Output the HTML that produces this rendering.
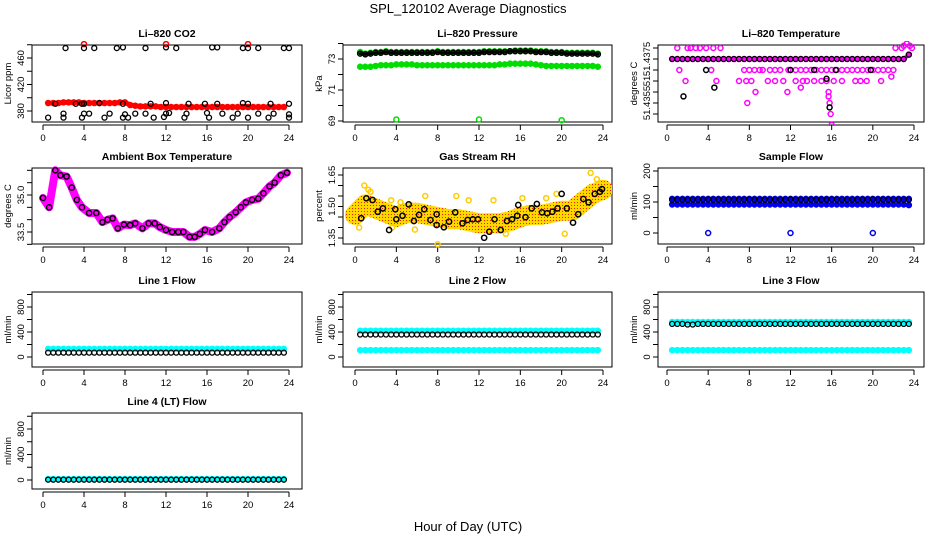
<!DOCTYPE html>
<html><head><meta charset="utf-8">
<style>
html,body{margin:0;padding:0;background:#fff;}
svg{display:block;font-family:"Liberation Sans",sans-serif;}
</style></head>
<body>
<svg id="c" width="936" height="540" viewBox="0 0 936 540">
<defs>
<pattern id="rhpat" width="3" height="3" patternUnits="userSpaceOnUse">
<rect width="3" height="3" fill="#ffd800"/><rect x="1" y="1" width="1" height="1" fill="#f02000"/>
</pattern>
</defs>
<text x="468" y="13" text-anchor="middle" font-size="13">SPL_120102  Average Diagnostics</text>
<text x="468" y="531" text-anchor="middle" font-size="13">Hour of Day (UTC)</text>
</svg>
<script>
const xTicks=[0,4,8,12,16,20,24];
const halfHours=[];for(let i=1;i<48;i++)halfHours.push(i*0.5);

// CO2
const co2Red=[392,392,392,393,393,393,393,392,392,392,392,392,392,392,393,393,389,388,387,387,387,387,386,386,386,386,386,386,386,386,386,386,386,386,386,386,386,386,386,386,386,386,386,386,386,386,386];
const co2RedTopHours=[4,12,20];const co2RedTop=[481,481,481];
const co2BlackHours=[2.2,4,5,7.2,7.8,10,12,13,16.5,17,19.5,20,21,23.5,24,1.2,3.2,3.8,4,5.5,7.8,10.5,12,14.2,15.8,17,19.5,20,22.2,24,0.5,2,4,4.5,6.5,8,9,10,12,12.3,14,16,17.5,19,21,22.5,24,2,3.8,6,7.8,8.3,10.8,11.8,13.8,16.2,18.5,20,22,24];
const co2Black=[475,475,475,475,476,475,476,475,476,476,475,475,475,475,475,391,391,391,391,392,391,391,392,391,391,391,392,391,391,391,370,376,376,376,376,375,376,376,376,377,376,377,376,376,376,376,375,370,370,370,370,370,370,371,370,370,370,370,370,370];

// Pressure
const presGreenHi=[73.45,73.35,73.4,73.45,73.45,73.5,73.45,73.45,73.45,73.45,73.45,73.45,73.45,73.45,73.45,73.5,73.45,73.45,73.45,73.45,73.45,73.45,73.45,73.45,73.5,73.5,73.5,73.5,73.5,73.5,73.55,73.55,73.55,73.55,73.5,73.5,73.5,73.45,73.45,73.45,73.4,73.4,73.4,73.4,73.4,73.4,73.35];
const presBlack=[73.35,73.3,73.35,73.4,73.4,73.45,73.4,73.4,73.4,73.4,73.4,73.4,73.4,73.4,73.4,73.45,73.4,73.4,73.4,73.4,73.4,73.4,73.4,73.4,73.45,73.45,73.45,73.45,73.45,73.5,73.5,73.5,73.5,73.5,73.45,73.45,73.45,73.4,73.4,73.4,73.35,73.35,73.35,73.35,73.35,73.35,73.3];
const presGreenLo=[72.5,72.5,72.5,72.55,72.6,72.6,72.6,72.65,72.65,72.65,72.65,72.6,72.6,72.6,72.6,72.6,72.6,72.6,72.6,72.6,72.6,72.6,72.6,72.6,72.6,72.6,72.6,72.65,72.65,72.7,72.7,72.7,72.7,72.7,72.65,72.6,72.55,72.55,72.55,72.55,72.55,72.55,72.55,72.55,72.55,72.55,72.5];
const presOutHours=[4,12,20];const presOut=[69.1,69.1,69.05];

// Li-820 temperature (discrete levels)
const tempMagHours=[1,2,2.3,2.8,3.2,3.8,4.5,5.2,22.2,22.8,23,23.3,23.6,23.8,1.2,4.3,7.5,8,8.5,9,9.3,10,10.5,11,11.8,12,12.5,13,13.5,14,14.5,15,15.5,16,16.5,17,17.5,18,18.5,19,19.5,20,20.5,21,21.5,22,1.8,4.8,7,7.7,8.2,9.8,10.5,11.3,12.5,13.2,13.6,14.3,15,15.5,16.2,17,18.3,19.4,20.8,8.6,11.7,13,15.7,18.8,21.8,7.8,15.8,15.9,16,15.7];
const tempMag=[51.4380,51.4380,51.4380,51.4380,51.4380,51.4380,51.4380,51.4380,51.4380,51.4380,51.4381,51.4382,51.4381,51.4380,51.4370,51.4370,51.4370,51.4370,51.4370,51.4370,51.4370,51.4370,51.4370,51.4370,51.4370,51.4370,51.4370,51.4370,51.4370,51.4370,51.4370,51.4370,51.4370,51.4370,51.4370,51.4370,51.4370,51.4370,51.4370,51.4370,51.4370,51.4370,51.4370,51.4370,51.4370,51.4370,51.4365,51.4365,51.4365,51.4365,51.4365,51.4365,51.4365,51.4365,51.4365,51.4365,51.4365,51.4365,51.4365,51.4365,51.4365,51.4365,51.4365,51.4365,51.4365,51.4360,51.4360,51.4362,51.4360,51.4365,51.4367,51.4355,51.4355,51.4350,51.4345,51.4358];
const tempBlack=[51.4375,51.4375,51.4375,51.4375,51.4375,51.4375,51.4375,51.4375,51.4375,51.4375,51.4375,51.4375,51.4375,51.4375,51.4375,51.4375,51.4375,51.4375,51.4375,51.4375,51.4375,51.4375,51.4375,51.4375,51.4375,51.4375,51.4375,51.4375,51.4375,51.4375,51.4375,51.4375,51.4375,51.4375,51.4375,51.4375,51.4375,51.4375,51.4375,51.4375,51.4375,51.4375,51.4375,51.4375,51.4375,51.4375,51.4377];
const tempBlackOutHours=[1.6,4.6,3.8,12,15.5,16.4,14.3,19.8,15.8];
const tempBlackOut=[51.4358,51.4362,51.4370,51.4370,51.4366,51.4370,51.4370,51.4370,51.4353];

// Ambient
const ambHours=[0,0.6,1.2,1.7,2.3,2.8,3.3,3.8,4.5,5.2,5.8,6.3,6.8,7.3,7.9,8.5,9,9.7,10.3,10.9,11.4,12,12.6,13.2,13.7,14.3,14.8,15.3,15.8,16.5,17.2,17.7,18.2,18.8,19.3,19.8,20.4,21,21.5,22.1,22.6,23.2,23.8];
const ambTemp=[34.88,34.5,36.0,35.8,35.75,35.3,34.8,34.5,34.27,34.27,33.9,34.0,34.05,33.65,33.8,33.78,33.85,33.65,33.85,33.85,33.7,33.58,33.5,33.5,33.5,33.3,33.3,33.42,33.58,33.5,33.65,33.9,34.1,34.3,34.5,34.7,34.8,34.85,35.07,35.35,35.5,35.8,35.9];

// RH
const rhBandHours=[0,1,2,3,4,5,6,7,8,9,10,11,12,13,14,15,16,17,18,19,20,21,22,23,24];
const rhBand=[1.46,1.51,1.49,1.47,1.45,1.47,1.47,1.46,1.45,1.44,1.44,1.43,1.42,1.42,1.42,1.43,1.45,1.46,1.46,1.47,1.48,1.48,1.52,1.56,1.58];
const rhOutHours=[0.9,1.3,1.5,3.5,4.4,6.8,8,9.8,11,13.4,16.2,18.5,19.5,22.8,23.4,3.6,0.4,5.8,14.6,20.3];
const rhOut=[1.60,1.58,1.57,1.53,1.52,1.55,1.32,1.55,1.53,1.53,1.54,1.54,1.56,1.66,1.63,1.40,1.40,1.39,1.37,1.37];
const rhBlackHours=[0.6,1.1,1.7,2.2,2.7,3.3,3.9,4.0,4.6,5.2,5.7,6.2,6.7,7.3,7.9,7.9,8.6,9.1,9.7,10.4,10.9,11.4,11.9,12.5,13,13.5,14.1,14.7,15.2,15.7,15.8,16.5,17.1,17.6,18.1,18.6,19.1,19.6,20,20.5,21.1,21.6,22.1,22.6,23.2,23.7,23.9];
const rhBlack=[1.444,1.539,1.531,1.475,1.491,1.388,1.487,1.439,1.456,1.510,1.431,1.460,1.487,1.436,1.463,1.412,1.401,1.428,1.472,1.420,1.436,1.439,1.439,1.351,1.380,1.439,1.388,1.431,1.439,1.456,1.507,1.449,1.491,1.512,1.472,1.468,1.475,1.491,1.560,1.491,1.423,1.463,1.536,1.520,1.560,1.570,1.583];

// Sample flow
const sfBlueHi=[110,110,110,110,110,110,110,110,110,110,110,110,110,110,110,110,110,110,110,110,110,110,110,110,110,110,110,110,110,110,110,110,110,110,110,110,110,110,110,110,110,110,110,110,110,110,110];
const sfBlueLo=[92,92,92,92,92,92,92,92,92,92,92,92,92,92,92,92,92,92,92,92,92,92,92,92,92,92,92,92,92,92,92,92,92,92,92,92,92,92,92,92,92,92,92,92,92,92,90];
const sfBlack=[107,107,107,107,107,107,107,108,107,107,107,107,107,107,107,108,107,107,107,107,107,107,107,108,107,107,107,107,107,107,107,108,107,107,107,107,107,107,107,108,107,107,107,107,107,107,107];
const sfOutHours=[4,12,20];const sfOut=[0,0,0];

// Line flows
const l1Cyan=[130,130,130,130,130,130,130,130,130,130,130,130,130,130,130,130,130,130,130,130,130,130,130,130,130,130,130,130,130,130,130,130,130,130,130,130,130,130,130,130,130,130,130,130,130,130,130];
const l1Black=[70,70,70,70,70,70,70,70,70,70,70,70,70,70,70,70,70,70,70,70,70,70,70,70,70,70,70,70,70,70,70,70,70,70,70,70,70,70,70,70,70,70,70,70,70,70,70];
const l2CyanHi=[420,420,420,420,420,420,420,420,420,420,420,420,420,420,420,420,420,420,420,420,420,420,420,420,420,420,420,420,420,420,420,420,420,420,420,420,420,420,420,420,420,420,420,420,420,420,420];
const l2Black=[360,360,360,360,360,360,360,360,360,360,360,360,360,360,360,360,360,360,360,360,360,360,360,360,360,360,360,360,360,360,360,360,360,360,360,360,360,360,360,360,360,360,360,360,360,360,360];
const l2CyanLo=[110,110,110,110,110,110,110,110,110,110,110,110,110,110,110,110,110,110,110,110,110,110,110,110,110,110,110,110,110,110,110,110,110,110,110,110,110,110,110,110,110,110,110,110,110,110,110];
const l3CyanHi=[560,560,560,560,560,560,560,560,560,560,560,560,560,560,560,560,560,560,560,560,560,560,560,560,560,560,560,560,560,560,560,560,560,560,560,560,560,560,560,560,560,560,560,560,560,560,560];
const l3Black=[530,530,530,520,520,530,530,530,530,530,530,530,530,530,530,530,530,530,530,530,530,530,530,530,530,530,530,530,530,530,530,530,530,530,530,530,530,530,530,530,530,530,530,530,530,530,530];
const l3CyanLo=[110,110,110,110,110,110,110,110,110,110,110,110,110,110,110,110,110,110,110,110,110,110,110,110,110,110,110,110,110,110,110,110,110,110,110,110,110,110,110,110,110,110,110,110,110,110,110];
const l4Cyan=[15,15,15,15,15,15,15,15,15,15,15,15,15,15,15,15,15,15,15,15,15,15,15,15,15,15,15,15,15,15,15,15,15,15,15,15,15,15,15,15,15,15,15,15,15,15,15];
const l4Black=[5,5,5,5,5,5,5,5,5,5,5,5,5,5,5,5,5,5,5,5,5,5,5,5,5,5,5,5,5,5,5,5,5,5,5,5,5,5,5,5,5,5,5,5,5,5,5];

const flowTicks=[0,200,400,600,800,1000];const flowLabels=['0','','400','','800',''];

const NS='http://www.w3.org/2000/svg';
const svg=document.getElementById('c');
const COLS=[{l:32,r:302,x0:43,x24:289},{l:343,r:612,x0:355,x24:603},{l:658,r:924,x0:667,x24:914}];
const ROWS=[{t:45,b:122},{t:168,b:244},{t:292,b:367},{t:413,b:489}];

function el(tag,attrs,parent){const e=document.createElementNS(NS,tag);for(const k in attrs)e.setAttribute(k,attrs[k]);(parent||svg).appendChild(e);return e;}

function panel(name,col,row,title,ylab,v1,o1,v2,o2,ticks,labels){
  const C=COLS[col],R=ROWS[row];
  const g=el('g',{});
  
  
  const X=h=>C.x0+(C.x24-C.x0)*h/24;
  const Y=v=>R.t+o1+(v-v1)*(o2-o1)/(v2-v1);
  const t=el('text',{x:(C.l+C.r)/2,y:R.t-8,'text-anchor':'middle','font-size':'10.5','font-weight':'bold'},g);
  t.textContent=title;
  
  
  const box=el('rect',{x:C.l,y:R.t,width:C.r-C.l,height:R.b-R.t,fill:'none',stroke:'#000','stroke-width':1},g);
  
  
  const xa=el('g',{},g);
  
  
  const ay=R.b+3;
  el('line',{x1:X(0),x2:X(24),y1:ay,y2:ay,stroke:'#000'},xa);
  xTicks.forEach(h=>{
    el('line',{x1:X(h),x2:X(h),y1:ay,y2:ay+5,stroke:'#000'},xa);
    const tl=el('text',{x:X(h),y:ay+16,'text-anchor':'middle','font-size':'9.5'},xa);
    tl.textContent=h;
    
    
  });
  const ya=el('g',{},g);
  
  
  const ys=ticks.map(Y);
  el('line',{x1:C.l,x2:C.l,y1:Math.min(...ys),y2:Math.max(...ys),stroke:'#000'},ya);
  ticks.forEach((v,i)=>{
    const y=Y(v);
    el('line',{x1:C.l-5,x2:C.l,y1:y,y2:y,stroke:'#000'},ya);
    if(labels[i]){
      const tl=el('text',{x:0,y:0,'text-anchor':'middle','font-size':'9.5',transform:`translate(${C.l-8},${y}) rotate(-90)`},ya);
      tl.textContent=labels[i];
      
      
    }
  });
  const yl=el('text',{x:0,y:0,'text-anchor':'middle','font-size':'9.5',transform:`translate(${C.l-21},${(R.t+R.b)/2}) rotate(-90)`},g);
  yl.textContent=ylab;
  
  
  const clip=el('clipPath',{id:'clip-'+name},g);
  el('rect',{x:C.l,y:R.t-4,width:C.r-C.l,height:R.b-R.t+8},clip);
  const pg=el('g',{'clip-path':`url(#clip-${name})`},g);
  
  
  return {g:pg,X,Y};
}

function pts(P,name,hours,vals,color,r,sw){
  hours.forEach((h,i)=>{
    const c=el('circle',{cx:P.X(h),cy:P.Y(vals[i]),r:r,fill:'none',stroke:color,'stroke-width':sw},P.g);
    
    
  });
}
function band(P,name,hours,vals,color,w){
  const d=hours.map((h,i)=>(i?'L':'M')+P.X(h).toFixed(1)+','+P.Y(vals[i]).toFixed(1)).join(' ');
  const p=el('path',{d:d,fill:'none',stroke:color,'stroke-width':w,'stroke-linejoin':'round','stroke-linecap':'round'},P.g);
  
  
  pts(P,name+'-point',hours,vals,color,2.5,1.5);
}

// Panel 1 CO2
let P=panel('co2',0,0,'Li–820 CO2','Licor ppm',380,66,460,13,[380,400,420,440,460,480],['380','','420','','460','']);
pts(P,'co2-top-red',co2RedTopHours,co2RedTop,'#ff0000',2.5,1.5);
band(P,'co2-red-band',halfHours,co2Red,'#ff0000',5);
pts(P,'co2-black-point',co2BlackHours,co2Black,'#000',2.5,1.3);

// Pressure
P=panel('pressure',1,0,'Li–820 Pressure','kPa',73,14,69,76,[69,70,71,72,73,74],['69','','71','','73','']);
band(P,'pressure-green-high',halfHours,presGreenHi,'#00dd00',4);
band(P,'pressure-green-low',halfHours,presGreenLo,'#00dd00',4);
band(P,'pressure-black',halfHours,presBlack,'#000',3);
pts(P,'pressure-outlier',presOutHours,presOut,'#00dd00',2.5,1.5);

// Li-820 Temperature
P=panel('li820-temp',2,0,'Li–820 Temperature','degrees C',51.4375,14,51.4355,58,[51.4380,51.4375,51.4370,51.4365,51.4360,51.4355,51.4350],['','51.4375','','51','','51.4355','']);
pts(P,'temp-magenta-point',tempMagHours,tempMag,'#ff00ff',2.5,1.5);
band(P,'temp-magenta-line',halfHours,tempBlack,'#ff00ff',4);
pts(P,'temp-black-point',halfHours,tempBlack,'#000',2.5,1.3);
pts(P,'temp-black-outlier',tempBlackOutHours,tempBlackOut,'#000',2.5,1.5);

// Ambient
P=panel('ambient',0,1,'Ambient Box Temperature','degrees C',35,27,33.5,64,[33,33.5,34,34.5,35,35.5,36],['','33.5','','','35.0','','']);
band(P,'ambient-magenta-band',ambHours,ambTemp,'#ff00ff',8);
pts(P,'ambient-black-point',ambHours,ambTemp,'#000',2.6,1.4);

// RH
P=panel('rh',1,1,'Gas Stream RH','percent',1.65,7,1.35,70,[1.35,1.40,1.45,1.50,1.55,1.60,1.65],['1.35','','','1.50','','','1.65']);
{
 const d=rhBandHours.map((h,i)=>(i?'L':'M')+P.X(h).toFixed(1)+','+P.Y(rhBand[i]).toFixed(1)).join(' ');
 const p=el('path',{d:d,fill:'none',stroke:'url(#rhpat)','stroke-width':20,'stroke-linejoin':'round','stroke-linecap':'round'},P.g);
 
 
}
pts(P,'rh-yellow-point',rhOutHours,rhOut,'#ffcc00',2.5,1.5);
pts(P,'rh-black-point',rhBlackHours,rhBlack,'#000',2.6,1.5);

// Sample flow
P=panel('sample-flow',2,1,'Sample Flow','ml/min',200,3,0,65,[0,50,100,150,200],['0','','100','','200']);
band(P,'sample-blue-high',halfHours,sfBlueHi,'#0000ee',4);
band(P,'sample-blue-low',halfHours,sfBlueLo,'#0000ee',4);
pts(P,'sample-black-point',halfHours,sfBlack,'#000',2.5,1.3);
pts(P,'sample-outlier',sfOutHours,sfOut,'#0000ee',2.5,1.5);

// Line 1
P=panel('line1',0,2,'Line 1 Flow','ml/min',0,65,800,15,flowTicks,flowLabels);
band(P,'line1-cyan',halfHours,l1Cyan,'#00ffff',5);
pts(P,'line1-black-point',halfHours,l1Black,'#000',2.5,1.3);
// Line 2
P=panel('line2',1,2,'Line 2 Flow','ml/min',0,65,800,15,flowTicks,flowLabels);
band(P,'line2-cyan-high',halfHours,l2CyanHi,'#00ffff',5);
band(P,'line2-cyan-low',halfHours,l2CyanLo,'#00ffff',5);
pts(P,'line2-black-point',halfHours,l2Black,'#000',2.5,1.3);
// Line 3
P=panel('line3',2,2,'Line 3 Flow','ml/min',0,65,800,15,flowTicks,flowLabels);
band(P,'line3-cyan-high',halfHours,l3CyanHi,'#00ffff',5);
band(P,'line3-cyan-low',halfHours,l3CyanLo,'#00ffff',5);
pts(P,'line3-black-point',halfHours,l3Black,'#000',2.5,1.3);
// Line 4
P=panel('line4',0,3,'Line 4 (LT) Flow','ml/min',0,67,800,16,flowTicks,flowLabels);
band(P,'line4-cyan',halfHours,l4Cyan,'#00ffff',5);
pts(P,'line4-black-point',halfHours,l4Black,'#000',2.5,1.3);
</script>
</body></html>
